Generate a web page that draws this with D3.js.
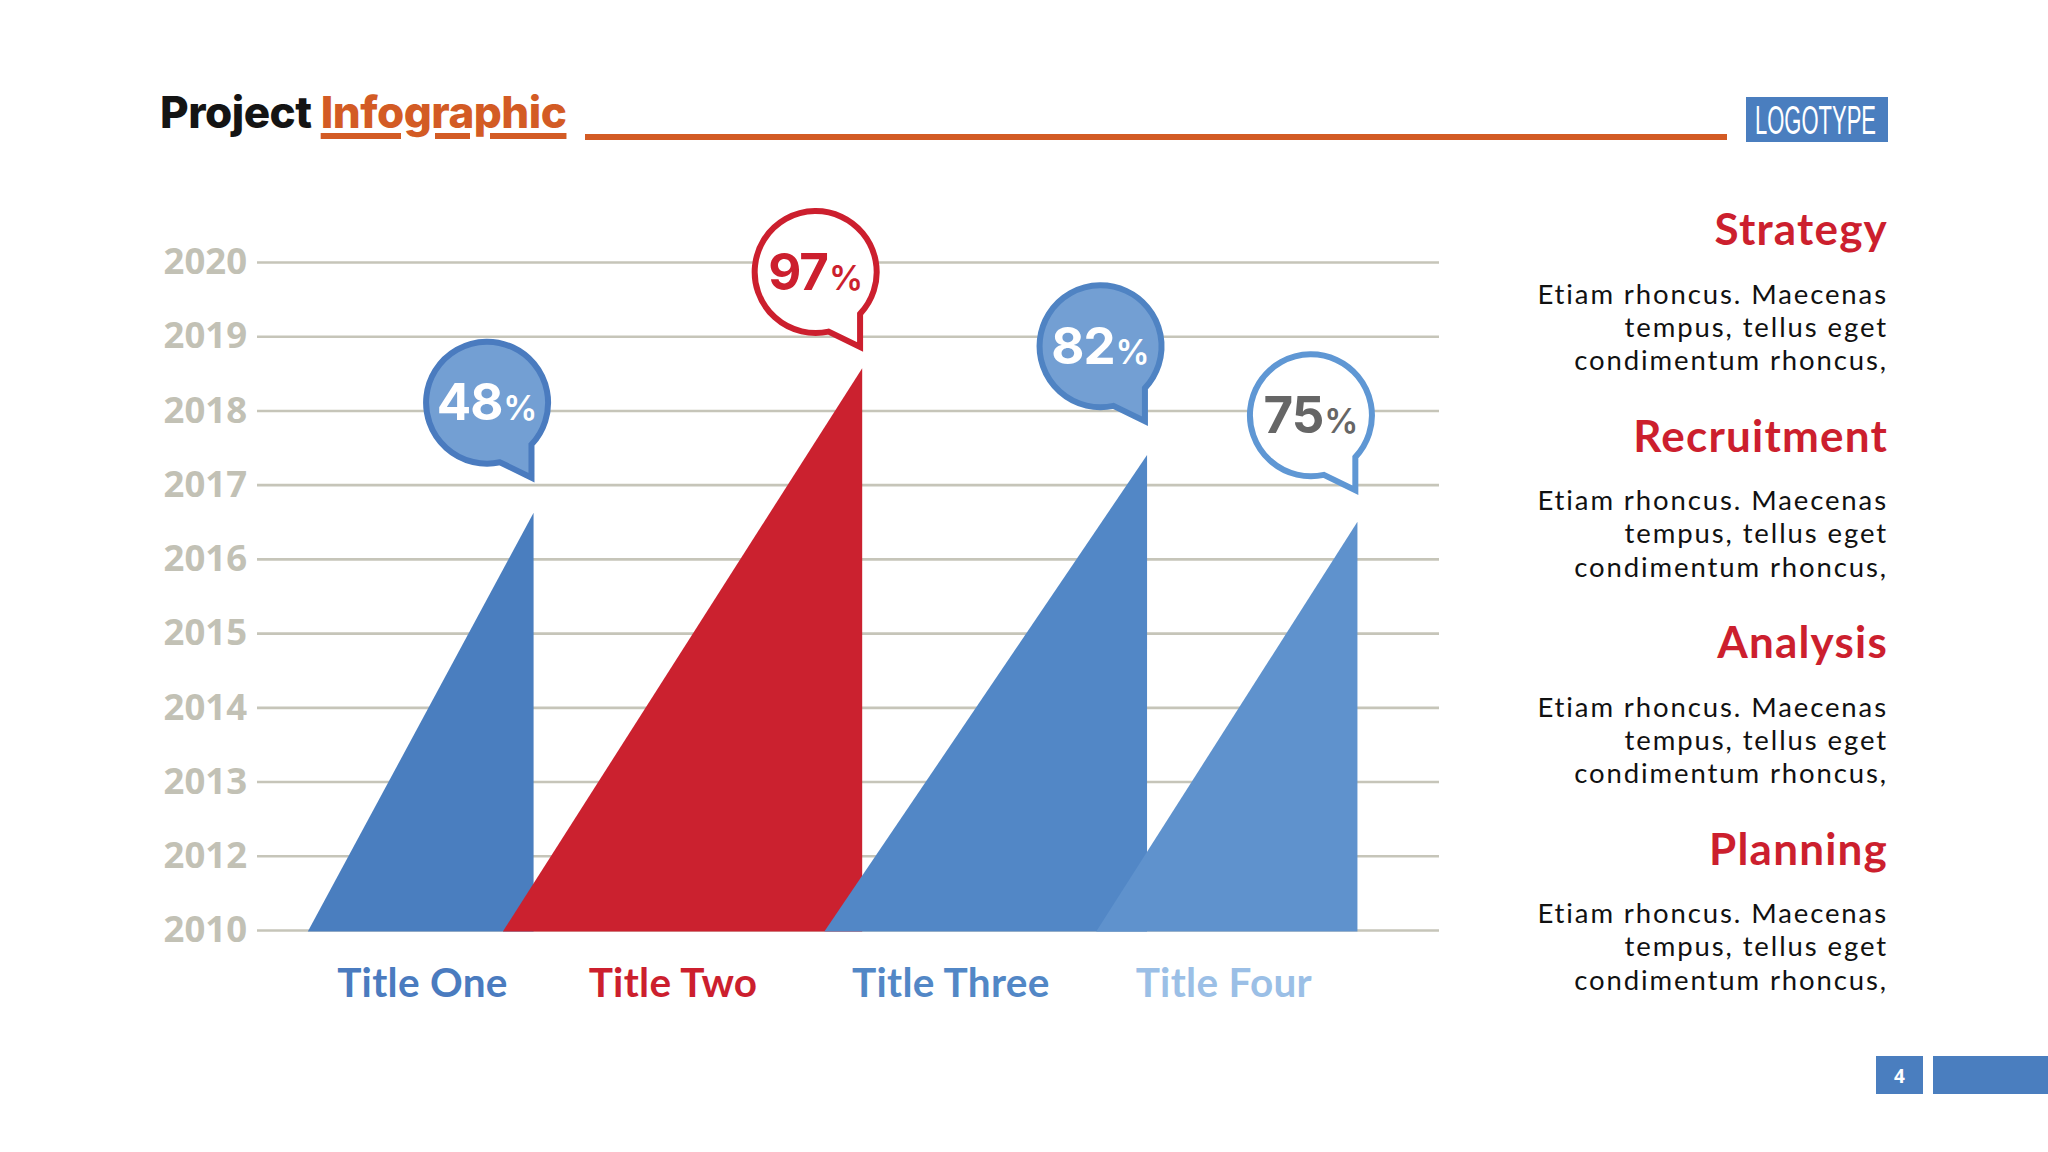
<!DOCTYPE html>
<html><head><meta charset="utf-8">
<script src="https://cdn.jsdelivr.net/npm/d3@7"></script>
<style>
html,body{margin:0;padding:0;background:#fff;}
body{width:2048px;height:1152px;overflow:hidden;position:relative;}
svg{position:absolute;left:0;top:0;}
#header{position:absolute;left:160px;top:90px;font-family:Inter,sans-serif;font-weight:800;font-size:44px;line-height:44px;white-space:nowrap;letter-spacing:-0.5px;}
#header .a{color:#141414;}
#header .b{color:#d35b24;text-decoration:underline;text-decoration-thickness:6px;text-underline-offset:5px;text-decoration-skip-ink:auto;}
</style></head>
<body>
<div id="header"><span class="a">Project</span> <span class="b">Infographic</span></div>
<script>
// ---------- data ----------
const tickLabels = ["2010","2012","2013","2014","2015","2016","2017","2018","2019","2020"];
const categories = ["Title One","Title Two","Title Three","Title Four"];
const percents = [48, 97, 82, 75];
const peakLevels = [5.62, 7.57, 6.40, 5.50];      // triangle apex, in gridline units
const baseStart = [0.43, 2.08, 4.80, 7.10];       // triangle base start (x units)
const baseEnd = [2.34, 5.12, 7.53, 9.31];         // triangle base end / vertical edge
const labelPos = [1.40, 3.52, 5.87, 8.18];        // category label centres
const calloutLevels = [6.02, 7.78, 6.78, 5.85];   // callout tip level
const sideHeadings = ["Strategy","Recruitment","Analysis","Planning"];
const sideBody = ["Etiam rhoncus. Maecenas","tempus, tellus eget","condimentum rhoncus,"];

// ---------- styles ----------
const triColors = ["#4a7ebf","#cb212f","#5287c6","#5f92cd"];
const labelColors = ["#4a7bbf","#cc1f2e","#5287c6","#9bbfe6"];
const bubbleFill = ["#739fd3","#ffffff","#739fd3","#ffffff"];
const bubbleStroke = ["#4a7bbf","#cc1f2e","#4f83c3","#5f97d4"];
const bubbleText = ["#ffffff","#cc1f2e","#ffffff","#666666"];

const W = 2048, H = 1152;
const svg = d3.select("body").append("svg").attr("width", W).attr("height", H);

// orange rule + logotype
svg.append("rect").attr("x",585).attr("y",134).attr("width",1142).attr("height",6).attr("fill","#d35b24");
svg.append("rect").attr("x",1746).attr("y",97).attr("width",142).attr("height",45).attr("fill","#4a7ebf");
svg.append("text").attr("x",1755).attr("y",134).attr("font-family","'Liberation Sans Narrow','Liberation Sans',sans-serif")
  .attr("font-size",40).attr("fill","#fff").attr("textLength",121).attr("lengthAdjust","spacingAndGlyphs").text("LOGOTYPE");

// scales
const y = d3.scaleLinear().domain([0, 9]).range([930, 262]);
const x = d3.scaleLinear().domain([0, 10]).range([257, 1439]);

// grid / y axis
const yAxis = d3.axisLeft(y).tickValues(d3.range(tickLabels.length)).tickFormat(i => tickLabels[i])
  .tickSize(-(x.range()[1]-x.range()[0])).tickPadding(10);
const gy = svg.append("g").attr("transform", `translate(${x.range()[0]},0)`).call(yAxis);
gy.select(".domain").remove();
gy.selectAll(".tick line").attr("stroke","#c6c5b9").attr("stroke-width",2.6);
gy.selectAll(".tick text").attr("fill","#c2c1b5").attr("font-family","'Open Sans',sans-serif")
  .attr("font-weight",700).attr("font-size",36.5);

// triangles
svg.append("g").selectAll("path").data(categories).join("path")
  .attr("d", (d,i) => {
    const b = y(0) + 1.5;
    return `M${x(baseStart[i])},${b}L${x(baseEnd[i])},${b}L${x(baseEnd[i])},${y(peakLevels[i])}Z`;
  })
  .attr("fill", (d,i) => triColors[i]);

// category labels
svg.append("g").selectAll("text").data(categories).join("text")
  .attr("x", (d,i) => x(labelPos[i])).attr("y", 997)
  .attr("text-anchor","middle").attr("font-family","Lato,sans-serif").attr("font-weight",700)
  .attr("font-size",40.5).attr("letter-spacing",0.3).attr("fill",(d,i)=>labelColors[i]).text(d => d);

// callouts
const R = 61, tipDx = 44.4, tipDy = 75;
const aA = 43.3*Math.PI/180, aB = 77.8*Math.PI/180;
const Ax = R*Math.cos(aA), Ay = R*Math.sin(aA), Bx = R*Math.cos(aB), By = R*Math.sin(aB);
const bubblePath = `M${Ax},${Ay}L${tipDx},${tipDy}L${Bx},${By}A${R},${R} 0 1 1 ${Ax},${Ay}Z`;
const gb = svg.append("g").selectAll("g").data(percents).join("g")
  .attr("transform",(d,i)=>`translate(${x(baseEnd[i]) - 46.5},${y(calloutLevels[i]) - 80.5})`);
gb.append("path").attr("d", bubblePath)
  .attr("fill",(d,i)=>bubbleFill[i]).attr("stroke",(d,i)=>bubbleStroke[i]).attr("stroke-width",6)
  .attr("stroke-linejoin","miter");
const bt = gb.append("text").attr("x",0).attr("y",17.5).attr("text-anchor","middle")
  .attr("font-family","Inter,sans-serif").attr("font-weight",700).attr("fill",(d,i)=>bubbleText[i]);
bt.append("tspan").attr("font-size",51).attr("letter-spacing",-1).text(d=>d);
bt.append("tspan").attr("font-size",34).attr("font-weight",600).attr("dx",1).text("%");

// side panel
const side = svg.append("g").selectAll("g").data(sideHeadings).join("g")
  .attr("transform",(d,i)=>`translate(1888,${245 + i*206.5})`);
side.append("text").attr("text-anchor","end").attr("font-family","Lato,sans-serif").attr("font-weight",700)
  .attr("font-size",44).attr("letter-spacing",1.2).attr("fill","#cc1f2e").text(d=>d);
side.each(function(){
  d3.select(this).selectAll("text.body").data(sideBody).join("text").attr("class","body")
    .attr("text-anchor","end").attr("y",(d,j)=>58.5 + j*33.4)
    .attr("font-family","Lato,sans-serif").attr("font-weight",400).attr("font-size",27.5)
    .attr("letter-spacing",1.9).attr("fill","#111111").text(d=>d);
});

// page number
svg.append("rect").attr("x",1876).attr("y",1056).attr("width",47).attr("height",38).attr("fill","#4a7ebf");
svg.append("rect").attr("x",1933).attr("y",1056).attr("width",115).attr("height",38).attr("fill","#4a7ebf");
svg.append("text").attr("x",1899.5).attr("y",1083).attr("text-anchor","middle").attr("font-family","'Open Sans',sans-serif")
  .attr("font-weight",700).attr("font-size",19).attr("fill","#fff").text("4");
</script>
</body></html>
